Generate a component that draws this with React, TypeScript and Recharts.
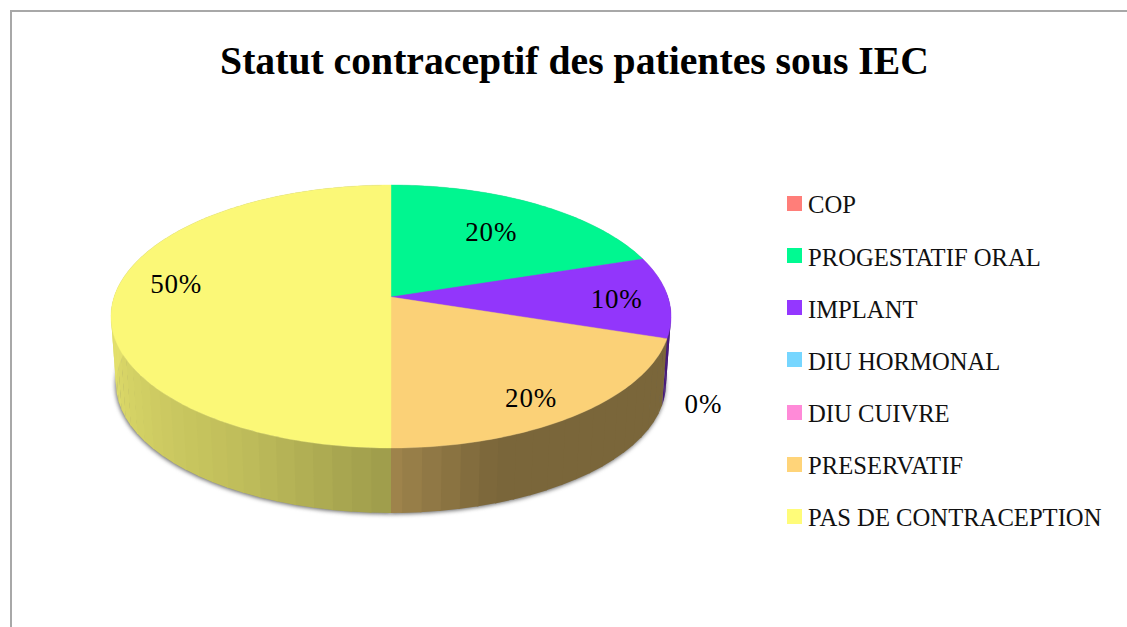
import React from 'react';
import { PieChart, Pie, Legend } from 'recharts';

const CATEGORIES = ['COP', 'PROGESTATIF ORAL', 'IMPLANT', 'DIU HORMONAL', 'DIU CUIVRE', 'PRESERVATIF', 'PAS DE CONTRACEPTION'];
const VALUES = [0, 20, 10, 0, 0, 20, 50];
const COLORS = ['#ff7e79', '#00fa92', '#9437ff', '#76d6ff', '#ff8ad8', '#ffd479', '#fffc79'];

const TITLE = 'Statut contraceptif des patientes sous IEC';
const FONT = '"Liberation Serif", serif';

const pieData = CATEGORIES.map((name, i) => ({ name, value: VALUES[i], fill: COLORS[i] }));

// label placement, as a fraction of the radius plus a vertical nudge (the three zero slices
// other than DIU CUIVRE have no label in the original)
const LABEL_TWEAKS: Record<string, { r: number; dy: number }> = {
  'PROGESTATIF ORAL': { r: 0.665, dy: -1 },
  IMPLANT: { r: 0.815, dy: 2 },
  'DIU CUIVRE': { r: 1.125, dy: 60 },
  PRESERVATIF: { r: 0.78, dy: 11 },
  'PAS DE CONTRACEPTION': { r: 0.776, dy: -13 },
};

// perspective of the tilted disc
const TILT = 0.1483;
const X_SCALE = 0.989;
const Y_SCALE = 0.4593;
const FLOOR_SCALE = 0.982;
const FLOOR_DROP = 67.7;
const FACET = 3.5;

const rad = (d: number) => (d * Math.PI) / 180;

// a = degrees clockwise from twelve o'clock
const rimPoint = (cx: number, cy: number, R: number, a: number, k = 1) => {
  const u = k * Math.sin(rad(a));
  const v = k * Math.cos(rad(a));
  const d = 1 + TILT * v;
  return { x: cx + (R * X_SCALE * u) / d, y: cy - (R * Y_SCALE * v) / d };
};

const floorPoint = (cx: number, cy: number, R: number, a: number) => {
  const p = rimPoint(cx, cy, R, a);
  return { x: cx + (p.x - cx) * FLOOR_SCALE, y: cy + FLOOR_DROP + (p.y - cy) * FLOOR_SCALE };
};

const shadeAt = (a: number) => {
  if (a < 161) return 0.48;
  if (a < 180) return 0.48 + ((a - 161) / 19) * 0.14;
  if (a < 208) return 0.62 + ((a - 180) / 28) * 0.13;
  return Math.min(0.89, 0.75 + ((a - 208) / 52) * 0.13);
};

const shadeColor = (hex: string, s: number) => {
  const n = parseInt(hex.slice(1), 16);
  const c = [(n >> 16) & 255, (n >> 8) & 255, n & 255].map(v => Math.round(v * s));
  return `rgb(${c[0]},${c[1]},${c[2]})`;
};

const pts = (list: { x: number; y: number }[]) => list.map(p => `${p.x},${p.y}`).join(' ');

const arcPoints = (cx: number, cy: number, R: number, a0: number, a1: number, fn = rimPoint) => {
  const out = [];
  for (let a = a0; a < a1; a += 1) out.push(fn(cx, cy, R, a));
  out.push(fn(cx, cy, R, a1));
  return out;
};

const SliceShape = (props: any) => {
  const { cx, cy, outerRadius, startAngle, endAngle, fill } = props;
  const a0 = 90 - startAngle;
  const a1 = 90 - endAngle;
  if (a1 - a0 <= 0) return null;
  const facets = [];
  const from = Math.max(a0, 88);
  const to = Math.min(a1, 276);
  for (let a = from; a < to; a += FACET) {
    const b = Math.min(a + FACET + 0.3, to);
    const poly = [rimPoint(cx, cy, outerRadius, a), rimPoint(cx, cy, outerRadius, b), floorPoint(cx, cy, outerRadius, b), floorPoint(cx, cy, outerRadius, a)];
    facets.push(<polygon key={a} points={pts(poly)} fill={shadeColor(fill, shadeAt(a + FACET / 2))} />);
  }
  const top = [{ x: cx, y: cy }, ...arcPoints(cx, cy, outerRadius, a0, a1)];
  return (
    <g>
      {facets}
      <polygon points={pts(top)} fill={shadeColor(fill, 0.985)} stroke={shadeColor(fill, 0.985)} strokeWidth={0.4} />
    </g>
  );
};

const ShadowShape = (props: any) => {
  const { cx, cy, outerRadius, startAngle, endAngle } = props;
  const a0 = 90 - startAngle;
  const a1 = 90 - endAngle;
  if (a1 - a0 <= 0) return null;
  const floor = [{ x: cx, y: cy + FLOOR_DROP }, ...arcPoints(cx, cy, outerRadius, a0, a1, floorPoint)];
  const top = [{ x: cx, y: cy }, ...arcPoints(cx, cy, outerRadius, a0, a1)];
  return (
    <g>
      <polygon points={pts(floor)} fill="#666666" style={{ filter: 'blur(2px)' }} transform="translate(-0.5 1)" />
      <polygon points={pts(top)} fill="#9a9a9a" style={{ filter: 'blur(0.7px)' }} />
    </g>
  );
};

const renderLabel = (props: any) => {
  const { cx, cy, midAngle, outerRadius, percent, name } = props;
  const tweak = LABEL_TWEAKS[name];
  if (!tweak) return null;
  const p = rimPoint(cx, cy, outerRadius, 90 - midAngle, tweak.r);
  return (
    <text x={p.x} y={p.y + tweak.dy} textAnchor="middle" dominantBaseline="central" fontFamily={FONT} fontSize={27} letterSpacing={0.8} fill="#000">
      {`${Math.round(percent * 100)}%`}
    </text>
  );
};

// both pies feed the legend payload, only the visible one is listed
const renderLegend = ({ payload }: any) => (
  <div>
    {(payload || []).filter((entry: any) => entry.type !== 'none').map((entry: any) => (
      <div key={entry.value} style={{ display: 'flex', alignItems: 'center', height: 52.17, fontFamily: FONT, fontSize: 24.65, color: '#111', whiteSpace: 'nowrap' }}>
        <span style={{ width: 15, height: 15, background: entry.color, marginRight: 6, flex: 'none' }} />
        <span style={{ position: 'relative', top: 2 }}>{entry.value}</span>
      </div>
    ))}
  </div>
);

export default function App() {
  return (
    <div style={{ position: 'absolute', left: 0, top: 0, width: 1127, height: 627, background: '#fff', overflow: 'hidden' }}>
      <div style={{ position: 'absolute', left: 10, top: 10, width: 1117, height: 617, borderTop: '2px solid #a8a8a8', borderLeft: '2px solid #a8a8a8' }} />
      <PieChart width={1127} height={627} margin={{ top: 0, right: 0, bottom: 0, left: 0 }} style={{ position: 'absolute', left: 0, top: 0 }}>
        <text x={574.5} y={74} textAnchor="middle" fontFamily={FONT} fontWeight="bold" fontSize={39.7} fill="#000">
          {TITLE}
        </text>
        <Pie data={pieData} dataKey="value" nameKey="name" cx={391} cy={297} outerRadius={280} startAngle={90} endAngle={-270} stroke="none" legendType="none" shape={ShadowShape} isAnimationActive={false} />
        <Pie data={pieData} dataKey="value" nameKey="name" cx={391} cy={297} outerRadius={280} startAngle={90} endAngle={-270} stroke="none" shape={SliceShape} label={renderLabel} labelLine={false} isAnimationActive={false} />
        <Legend content={renderLegend} itemSorter={null} layout="vertical" align="right" verticalAlign="middle" wrapperStyle={{ left: 787, top: 177.4, width: 340 }} />
      </PieChart>
    </div>
  );
}
